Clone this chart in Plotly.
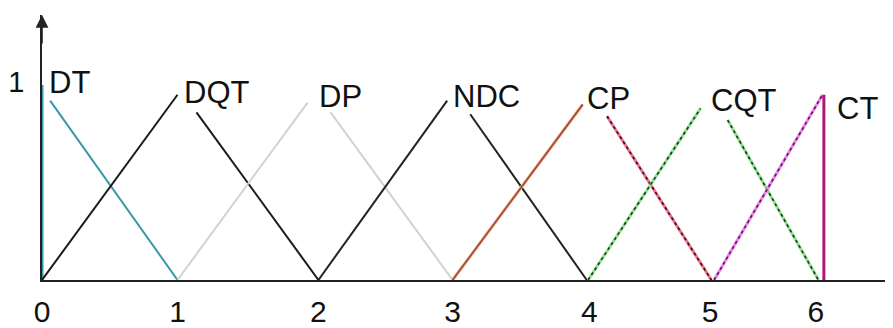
import plotly.graph_objects as go

# Membership-function names and tick labels
mf_names = ["DT", "DQT", "DP", "NDC", "CP", "CQT", "CT"]
tick_vals = [0.0, 1.0, 2.04, 3.03, 4.04, 4.93, 5.71]
tick_text = ["0", "1", "2", "3", "4", "5", "6"]

# Left (rising) segment of each function
rise_x = [[0, 0], [0, 1.0], [1.0, 1.96], [2.04, 2.99], [3.03, 3.99], [4.03, 4.86], [4.96, 5.76]]
rise_y = [[0, 1.0], [0, 0.95], [0, 0.91], [0, 0.92], [0, 0.90], [0, 0.88], [0, 0.95]]
# Right (falling) segment of each function
fall_x = [[0.06, 1.0], [1.14, 2.04], [2.13, 3.03], [3.16, 4.02], [4.17, 4.94], [5.06, 5.73], [5.77, 5.77]]
fall_y = [[0.92, 0], [0.86, 0], [0.86, 0], [0.85, 0], [0.84, 0], [0.82, 0], [0.95, 0]]

# Label anchor points (left edge, vertical centre)
label_x = [0.04, 1.03, 2.03, 3.02, 4.01, 4.92, 5.85]
label_y = [1.015, 0.96, 0.94, 0.94, 0.93, 0.92, 0.88]

# Styles: (halo colour, halo width, core colour, core width, core dash)
rise_style = [
    ("#3b98a8", 3.0, None, 0, None),
    ("#1a1a1a", 2.0, None, 0, None),
    ("#d2d2d2", 2.0, None, 0, None),
    ("#222222", 2.0, None, 0, None),
    ("#f0a080", 3.0, "#9a4a30", 1.5, None),
    ("#8ee08e", 3.0, "#1a3a1a", 1.6, "dot"),
    ("#f080f0", 3.0, "#502050", 1.6, "dot"),
]
fall_style = [
    ("#3b98a8", 2.0, None, 0, None),
    ("#1a1a1a", 2.0, None, 0, None),
    ("#d2d2d2", 2.0, None, 0, None),
    ("#222222", 2.0, None, 0, None),
    ("#f07090", 3.0, "#3a1010", 1.6, "dot"),
    ("#8ee08e", 3.0, "#1a3a1a", 1.6, "dot"),
    ("#b0157a", 3.0, None, 0, None),
]

fig = go.Figure()


def add_segment(xs, ys, style):
    halo, hw, core, cw, dash = style
    fig.add_trace(go.Scatter(x=xs, y=ys, mode="lines",
                             line=dict(color=halo, width=hw),
                             hoverinfo="skip", showlegend=False))
    if core:
        fig.add_trace(go.Scatter(x=xs, y=ys, mode="lines",
                                 line=dict(color=core, width=cw, dash=dash),
                                 hoverinfo="skip", showlegend=False))


for i in range(len(mf_names)):
    add_segment(rise_x[i], rise_y[i], rise_style[i])
    add_segment(fall_x[i], fall_y[i], fall_style[i])

for name, lx, ly in zip(mf_names, label_x, label_y):
    fig.add_annotation(x=lx, y=ly, text=name, showarrow=False,
                       xanchor="left", yanchor="middle",
                       font=dict(family="Liberation Sans, Arial", size=31, color="#111111"))

x_max = 6.258
y_max = 1.359

# y-axis arrow head
fig.add_annotation(x=0, y=y_max, xref="x", yref="y", text="", showarrow=True,
                   ax=0, ay=30, arrowhead=2, arrowsize=1.6, arrowwidth=1.6,
                   arrowcolor="#222222")
# x-axis faint arrow head
fig.add_annotation(x=6.29, y=0, xref="x", yref="y", text="", showarrow=True,
                   ax=-18, ay=0, arrowhead=2, arrowsize=1.4, arrowwidth=1.2,
                   arrowcolor="#b0b0b0")

fig.update_layout(
    width=893, height=328,
    margin=dict(l=34, r=11, t=7, b=56, autoexpand=False),
    paper_bgcolor="white", plot_bgcolor="white",
    showlegend=False,
    xaxis=dict(range=[0, x_max], showgrid=False, zeroline=False, automargin=False,
               showline=True, linecolor="#222222", linewidth=1.8,
               tickvals=tick_vals, ticktext=tick_text, ticks="",
               ticklabelstandoff=4,
               tickfont=dict(family="Liberation Sans, Arial", size=30, color="#111111")),
    yaxis=dict(range=[0, y_max], showgrid=False, zeroline=False, automargin=False,
               showline=True, linecolor="#222222", linewidth=1.8,
               tickvals=[1.0], ticktext=["1"], ticks="",
               ticklabelstandoff=10, ticklabelshift=-3,
               tickfont=dict(family="Liberation Sans, Arial", size=29, color="#111111")),
)

fig.write_html("out.html")
